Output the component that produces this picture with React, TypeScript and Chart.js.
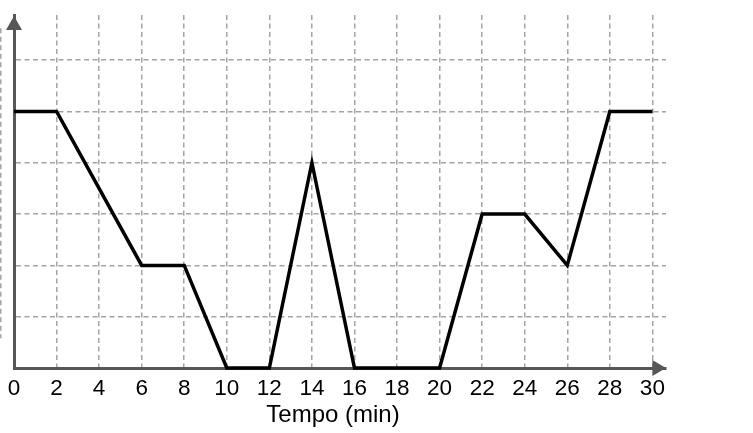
import React, { useEffect, useRef } from "react";
import { Chart, registerables } from "chart.js";

Chart.register(...registerables);

const timeMin = [0, 2, 6, 8, 10, 12, 14, 16, 20, 22, 24, 26, 28, 30];
const level = [5, 5, 2, 2, 0, 0, 4, 0, 0, 3, 3, 2, 5, 5];
const xTicks = [0, 2, 4, 6, 8, 10, 12, 14, 16, 18, 20, 22, 24, 26, 28, 30];
const yLevels = [0, 1, 2, 3, 4, 5, 6];
const xTitle = "Tempo (min)";

const AXIS = "#575757";
const GRID = "#a4a4a4";
const DASH = [5, 3.5];
const FONT = "'Liberation Sans', Arial, sans-serif";

const arrowsPlugin = {
  id: "arrows",
  beforeDatasetsDraw(chart: any) {
    const { ctx, chartArea, scales } = chart;
    const xs = scales.x;
    const ys = scales.y;
    ctx.save();
    // partial dashed guide at left edge (cropped in original)
    const gx = Math.max(0.75, xs.getPixelForValue(-0.64));
    ctx.strokeStyle = GRID;
    ctx.lineWidth = 1.5;
    ctx.setLineDash(DASH);
    ctx.beginPath();
    ctx.moveTo(gx, ys.getPixelForValue(6.62));
    ctx.lineTo(gx, ys.getPixelForValue(0.58));
    ctx.stroke();
    ctx.setLineDash([]);
    ctx.fillStyle = AXIS;
    // y arrow
    const ax = chartArea.left;
    const top = chartArea.top + 1;
    ctx.beginPath();
    ctx.moveTo(ax, top);
    ctx.lineTo(ax - 8, top + 14);
    ctx.lineTo(ax + 8, top + 14);
    ctx.closePath();
    ctx.fill();
    // x arrow
    const by = chartArea.bottom;
    const base = xs.getPixelForValue(30);
    ctx.beginPath();
    ctx.moveTo(chartArea.right, by);
    ctx.lineTo(base, by - 8);
    ctx.lineTo(base, by + 8);
    ctx.closePath();
    ctx.fill();
    ctx.restore();
  },
};

export default function App() {
  const ref = useRef<HTMLCanvasElement | null>(null);
  useEffect(() => {
    if (!ref.current) return;
    const chart = new Chart(ref.current, {
      type: "line",
      data: {
        datasets: [
          {
            data: timeMin.map((t, i) => ({ x: t, y: level[i] })),
            borderColor: "#000",
            borderWidth: 3.5,
            borderJoinStyle: "miter",
            pointRadius: 0,
            tension: 0,
            fill: false,
            clip: false,
          } as any,
        ],
      },
      options: {
        responsive: false,
        animation: false,
        devicePixelRatio: 1,
        layout: { padding: { left: 0, right: 87, top: 15, bottom: 0 } },
        plugins: {
          legend: { display: false },
          tooltip: { enabled: false },
          title: {
            display: true,
            position: "bottom",
            text: xTitle,
            color: "#000",
            font: { family: FONT, size: 24, weight: "normal" },
            padding: { top: 2.5, bottom: 3.7 },
          },
        },
        scales: {
          x: {
            type: "linear",
            min: 0,
            max: 30.64,
            afterBuildTicks: (s: any) => {
              s.ticks = xTicks.map((v) => ({ value: v }));
            },
            afterFit: (s: any) => {
              s.height = 30;
              s.paddingLeft = 0;
              s.paddingRight = 0;
            },
            ticks: {
              autoSkip: false,
              maxRotation: 0,
              padding: 7.5,
              color: "#000",
              font: { family: FONT, size: 22.5 },
              callback: (v: any) => String(v),
            },
            grid: {
              color: GRID,
              lineWidth: 1.5,
              drawTicks: false,
            },
            border: { display: true, color: AXIS, width: 3, dash: DASH },
          } as any,
          y: {
            type: "linear",
            min: 0,
            max: 6.88,
            afterBuildTicks: (s: any) => {
              s.ticks = yLevels.map((v) => ({ value: v }));
            },
            afterFit: (s: any) => {
              s.width = 14;
            },
            ticks: { display: false },
            grid: {
              color: GRID,
              lineWidth: 1.5,
              drawTicks: false,
            },
            border: { display: true, color: AXIS, width: 3, dash: DASH },
          } as any,
        },
      },
      plugins: [arrowsPlugin],
    });
    return () => chart.destroy();
  }, []);
  return (
    <div style={{ position: "fixed", left: 0, top: 0, width: 753, height: 433, background: "#fff" }}>
      <canvas ref={ref} width={753} height={433} style={{ width: 753, height: 433, display: "block" }} />
    </div>
  );
}
